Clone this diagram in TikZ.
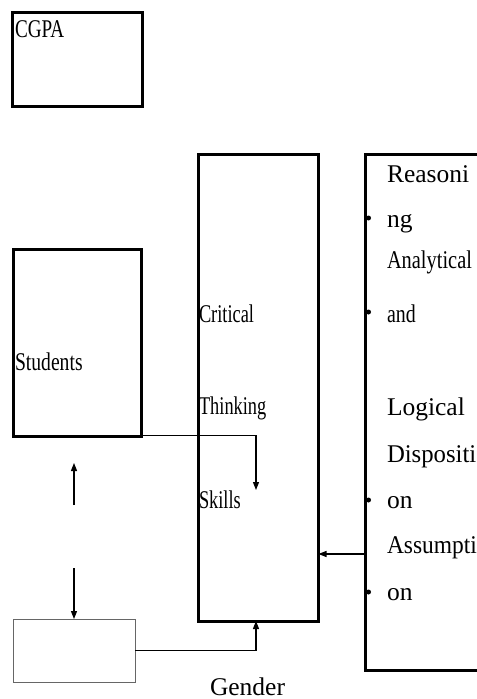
\documentclass[tikz,border=0pt]{standalone}
\usepackage{fontspec}
\usepackage{graphicx}
\setmainfont{Liberation Serif}
\usetikzlibrary{arrows.meta,calc}
\newcommand{\sq}[2]{\scalebox{#1}[1]{#2}}
\begin{document}
\begin{tikzpicture}[x=1bp,y=-1bp,
  box/.style={draw,line width=3bp,inner sep=0,outer sep=0},
  thinbox/.style={draw=black!60,line width=1bp,inner sep=0,outer sep=0},
  txt/.style={anchor=base west,inner sep=0,outer sep=0,font=\fontsize{25.5bp}{30bp}\selectfont},
  conn/.style={line width=1.2bp,-{Triangle[length=8bp,width=6bp]}},
  bul/.style={circle,fill,inner sep=0,minimum size=5bp}]
\useasboundingbox (0,0) rectangle (477,699);
\clip (0,0) rectangle (477,699);
% boxes
\node[box,minimum width=129bp,minimum height=93.5bp] (cgpa) at (77.5,59.25) {};
\node[box,minimum width=128bp,minimum height=186.5bp] (stud) at (77.5,342.75) {};
\node[box,minimum width=120.5bp,minimum height=466.5bp] (crit) at (258.25,387.75) {};
\node[box,minimum width=130bp,minimum height=516bp] (rbox) at (430.5,412.5) {};
\node[thinbox,minimum width=121bp,minimum height=63bp] (gend) at (74.5,650.5) {};
% texts
\node[txt] (tcgpa) at (15,38) {\sq{0.75}{CGPA}};
\node[txt] (tstud) at (15,370) {\sq{0.77}{Students}};
\node[txt] (tcrit) at (199,322) {\sq{0.72}{Critical}};
\node[txt] (tthink) at (199,414) {\sq{0.72}{Thinking}};
\node[txt] (tskill) at (199,508) {\sq{0.72}{Skills}};
\node[txt] (t1) at (387,182) {Reasoni};
\node[txt] (t2) at (387,227) {ng};
\node[txt] (t3) at (387,268) {\sq{0.8}{Analytical}};
\node[txt] (t4) at (387,322) {\sq{0.78}{and}};
\node[txt] (t5) at (387,415) {Logical};
\node[txt] (t6) at (387,462) {\sq{0.97}{Dispositi}};
\node[txt] (t7) at (387,508) {on};
\node[txt] (t8) at (387,553) {\sq{0.92}{Assumpti}};
\node[txt] (t9) at (387,600) {on};
\node[txt] (tgend) at (210,695.5) {Gender};
% bullets
\node[bul] (b1) at (368.5,218) {};
\node[bul] (b2) at (368.5,312) {};
\node[bul] (b3) at (368.5,500) {};
\node[bul] (b4) at (368.5,592) {};
% connectors
\coordinate (sstart) at (135,435.5);
\coordinate (send) at (256,490);
\draw[conn] (sstart) -- (send |- sstart) -- (send);
\coordinate (gin) at (256,621);
\draw[conn] (gend.east) -- (gin |- gend.east) -- (gin);
\coordinate (rout) at (rbox.west |- 0,554);
\draw[conn] (rout) -- (crit.east |- rout);
\coordinate (ua) at (74,505);
\coordinate (ub) at (74,463);
\draw[conn] (ua) -- (ub);
\coordinate (da) at (74,568);
\draw[conn] (da) -- (gend.north -| da);
\end{tikzpicture}
\end{document}
